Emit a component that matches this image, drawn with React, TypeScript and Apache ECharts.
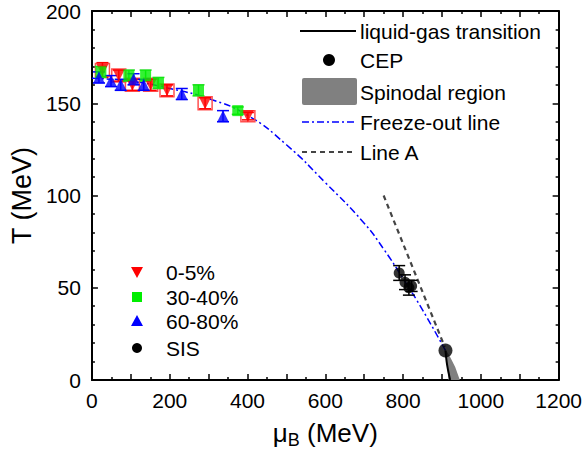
import React, { useEffect, useRef } from "react";
import * as echarts from "echarts";

// ---- data ----
const redMu = [27, 69, 104, 151, 193, 291, 401];
const redT = [168, 165, 160, 160, 157, 150, 143];
const redErr = [4, 3, 3, 3, 3, 3, 2];
const redSys = [3.5, 3.5, 3.5, 3.5, 3.5, 3.5, 3];

const greenMu = [23, 95, 138, 171, 274, 375];
const greenT = [167, 165, 165, 161, 157, 146];
const greenErr = [3, 3, 3, 3, 3, 2];

const blueMu = [18, 49, 74, 107, 133, 231, 337];
const blueT = [164, 162, 160, 163, 160, 155, 143];
const blueErr = [3, 3, 3, 3, 3, 3, 3];

const sisMu = [790, 805, 815, 822];
const sisT = [58, 53, 50, 51];
const sisErr = [4, 4, 4, 3];

const cepMu = [909];
const cepT = [16];

const freezeMu = [0, 100, 200, 300, 400, 500, 600, 700, 750, 800, 850, 909];
const freezeT = [163.5, 162, 158, 152.5, 143.5, 127.5, 107, 85, 71, 55, 38, 16];

const lineAMu = [750, 907];
const lineAT = [100, 18];

const lgMu = [909, 912, 916, 921];
const lgT = [16, 10, 5, 0];

const spinodalMu = [907, 911, 914, 917, 946, 934, 922, 911];
const spinodalT = [16, 11, 7, 0, 0, 7, 12, 16];

const xTicks = [0, 200, 400, 600, 800, 1000, 1200];
const yTicks = [0, 50, 100, 150, 200];

const FONT = "'Liberation Sans', Arial, sans-serif";

const zip = (a: number[], b: number[], c?: number[]) =>
  a.map((v, i) => (c ? [v, b[i], c[i]] : [v, b[i]]));

function errorBars(color: string, data: number[][], capHalf: number, width = 1.5) {
  return {
    type: "custom",
    data,
    z: 3,
    silent: true,
    renderItem: (params: any, api: any) => {
      const x = api.value(0);
      const y = api.value(1);
      const e = api.value(2);
      const top = api.coord([x, y + e]);
      const bot = api.coord([x, y - e]);
      const st = { stroke: color, lineWidth: width };
      return {
        type: "group",
        children: [
          { type: "line", shape: { x1: top[0], y1: top[1], x2: bot[0], y2: bot[1] }, style: st },
          { type: "line", shape: { x1: top[0] - capHalf, y1: top[1], x2: top[0] + capHalf, y2: top[1] }, style: st },
          { type: "line", shape: { x1: bot[0] - capHalf, y1: bot[1], x2: bot[0] + capHalf, y2: bot[1] }, style: st },
        ],
      };
    },
  };
}

function sysBoxes(color: string, data: number[][]) {
  return {
    type: "custom",
    data,
    z: 3,
    silent: true,
    renderItem: (params: any, api: any) => {
      const x = api.value(0);
      const y = api.value(1);
      const s = api.value(2);
      const top = api.coord([x, y + s]);
      const bot = api.coord([x, y - s]);
      return {
        type: "rect",
        shape: { x: top[0] - 7, y: top[1], width: 14, height: bot[1] - top[1] },
        style: { fill: "none", stroke: color, lineWidth: 1.5 },
      };
    },
  };
}

const axisCommon = {
  axisLine: { onZero: false, lineStyle: { color: "#000", width: 2 } },
  axisTick: { inside: true, length: 6, lineStyle: { color: "#000", width: 1.5 } },
  minorTick: { show: true, inside: true, length: 3, lineStyle: { color: "#000", width: 1.5 } },
  splitLine: { show: false },
  minorSplitLine: { show: false },
};

export default function App() {
  const ref = useRef<HTMLDivElement>(null);
  useEffect(() => {
    if (!ref.current) return;
    const chart = echarts.init(ref.current, null, { renderer: "svg" });
    const tx = (x: number, y: number, text: string) => ({
      type: "text",
      x,
      y,
      style: { text, font: `21px ${FONT}`, fill: "#000", verticalAlign: "middle" },
    });
    const option: any = {
      animation: false,
      backgroundColor: "#fff",
      grid: { left: 91, right: 24, top: 11, bottom: 75, containLabel: false },
      xAxis: [
        {
          type: "value",
          min: 0,
          max: 1200,
          interval: 100,
          position: "bottom",
          ...axisCommon,
          minorTick: { ...axisCommon.minorTick, splitNumber: 2 },
          axisLabel: {
            color: "#000",
            fontSize: 21,
            fontFamily: FONT,
            margin: 10,
            formatter: (v: number) => (xTicks.includes(v) ? String(v) : ""),
          },
          name: "{m|μ}{s|B}{m| (MeV)}",
          nameLocation: "middle",
          nameGap: 37,
          nameTextStyle: {
            rich: {
              m: { fontSize: 26, fontFamily: FONT, color: "#000" },
              s: { fontSize: 18, fontFamily: FONT, color: "#000", padding: [14, 0, 0, 0] },
            },
          },
        },
        {
          type: "value",
          min: 0,
          max: 1200,
          interval: 100,
          position: "top",
          ...axisCommon,
          minorTick: { ...axisCommon.minorTick, splitNumber: 2 },
          axisLabel: { show: false },
        },
      ],
      yAxis: [
        {
          type: "value",
          min: 0,
          max: 200,
          interval: 50,
          position: "left",
          ...axisCommon,
          minorTick: { ...axisCommon.minorTick, splitNumber: 5 },
          axisLabel: {
            color: "#000",
            fontSize: 21,
            fontFamily: FONT,
            margin: 11,
            formatter: (v: number) => (yTicks.includes(v) ? String(v) : ""),
          },
          name: "T (MeV)",
          nameLocation: "middle",
          nameGap: 54,
          nameTextStyle: { fontSize: 27, fontFamily: FONT, color: "#000" },
        },
        {
          type: "value",
          min: 0,
          max: 200,
          interval: 50,
          position: "right",
          ...axisCommon,
          minorTick: { ...axisCommon.minorTick, splitNumber: 5 },
          axisLabel: { show: false },
        },
      ],
      series: [
        {
          type: "custom",
          name: "Spinodal region",
          data: zip(spinodalMu, spinodalT),
          z: 1,
          silent: true,
          renderItem: (params: any, api: any) => {
            if (params.dataIndex !== 0) return null;
            const pts = spinodalMu.map((m, i) => api.coord([m, spinodalT[i]]));
            return { type: "polygon", shape: { points: pts }, style: { fill: "#808080" } };
          },
        },
        {
          type: "line",
          name: "Freeze-out line",
          data: zip(freezeMu, freezeT),
          smooth: true,
          showSymbol: false,
          z: 2,
          lineStyle: { color: "#0000ff", width: 1.5, type: [7, 3, 2, 3] },
        },
        {
          type: "line",
          name: "Line A",
          data: zip(lineAMu, lineAT),
          showSymbol: false,
          z: 2,
          lineStyle: { color: "#444", width: 2.2, type: [5, 4] },
        },
        {
          type: "line",
          name: "liquid-gas transition",
          data: zip(lgMu, lgT),
          smooth: true,
          showSymbol: false,
          z: 2,
          lineStyle: { color: "#000", width: 2 },
        },
        sysBoxes("#ff5050", zip(redMu, redT, redSys)),
        errorBars("#ff0000", zip(redMu, redT, redErr), 6),
        errorBars("#22dd22", zip(greenMu, greenT, greenErr), 6),
        errorBars("#0000ff", zip(blueMu, blueT, blueErr), 6),
        errorBars("#000", zip(sisMu, sisT, sisErr), 6),
        {
          type: "scatter",
          name: "0-5%",
          data: zip(redMu, redT),
          symbol: "triangle",
          symbolRotate: 180,
          symbolSize: 12,
          z: 4,
          itemStyle: { color: "#ff0000" },
        },
        {
          type: "scatter",
          name: "30-40%",
          data: zip(greenMu, greenT),
          symbol: "rect",
          symbolSize: 11,
          z: 4,
          itemStyle: { color: "#00ee00" },
        },
        {
          type: "scatter",
          name: "60-80%",
          data: zip(blueMu, blueT),
          symbol: "triangle",
          symbolSize: 12,
          z: 5,
          itemStyle: { color: "#0000ff" },
        },
        {
          type: "scatter",
          name: "SIS",
          data: zip(sisMu, sisT),
          symbol: "circle",
          symbolSize: 11,
          z: 5,
          itemStyle: { color: "#000" },
        },
        {
          type: "scatter",
          name: "CEP",
          data: zip(cepMu, cepT),
          symbol: "circle",
          symbolSize: 14,
          z: 6,
          itemStyle: { color: "#000" },
        },
      ],
      graphic: [
        // top-right legend
        { type: "line", shape: { x1: 300, y1: 31, x2: 356, y2: 31 }, style: { stroke: "#000", lineWidth: 2 } },
        tx(360, 31, "liquid-gas transition"),
        { type: "circle", shape: { cx: 329, cy: 60, r: 6 }, style: { fill: "#000" } },
        tx(360, 60, "CEP"),
        { type: "rect", shape: { x: 302, y: 78, width: 55, height: 27, r: 2 }, style: { fill: "#808080" } },
        tx(360, 92, "Spinodal region"),
        { type: "line", shape: { x1: 302, y1: 122, x2: 356, y2: 122 }, style: { stroke: "#0000ff", lineWidth: 1.5, lineDash: [7, 3, 2, 3] } },
        tx(360, 122, "Freeze-out line"),
        { type: "line", shape: { x1: 302, y1: 152, x2: 356, y2: 152 }, style: { stroke: "#444", lineWidth: 2, lineDash: [5, 4] } },
        tx(360, 152, "Line A"),
        // bottom-left legend
        { type: "polygon", shape: { points: [[131, 267], [143, 267], [137, 278]] }, style: { fill: "#ff0000" } },
        tx(166, 272, "0-5%"),
        { type: "rect", shape: { x: 132, y: 292, width: 10, height: 10 }, style: { fill: "#00ee00" } },
        tx(166, 297, "30-40%"),
        { type: "polygon", shape: { points: [[131, 326], [143, 326], [137, 315]] }, style: { fill: "#0000ff" } },
        tx(166, 321, "60-80%"),
        { type: "circle", shape: { cx: 137, cy: 348, r: 5 }, style: { fill: "#000" } },
        tx(166, 348, "SIS"),
      ],
    };
    chart.setOption(option);
    return () => chart.dispose();
  }, []);
  return <div ref={ref} style={{ width: 585, height: 455, position: "absolute", left: 0, top: 0 }} />;
}
